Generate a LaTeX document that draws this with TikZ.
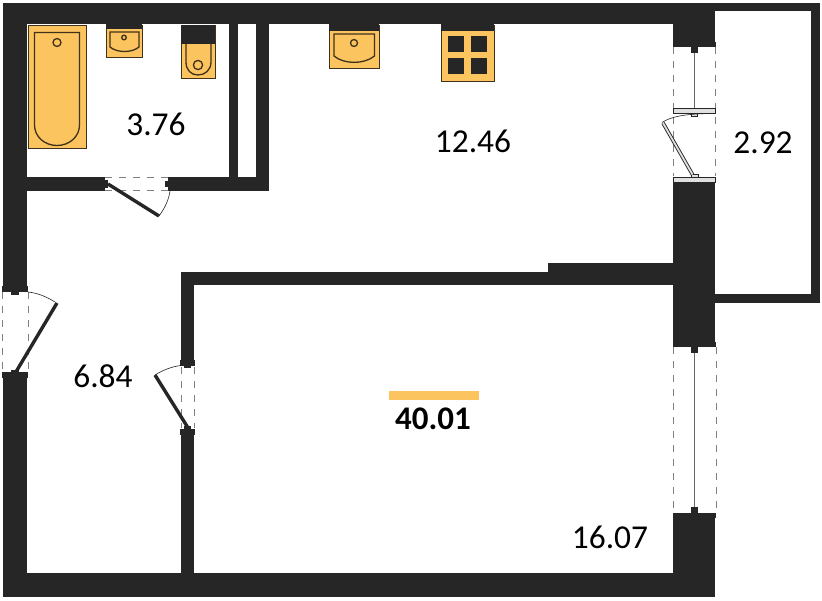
\documentclass[tikz,border=0pt]{standalone}
\usepackage{fontspec}
\setmainfont{Carlito}
\definecolor{wallc}{HTML}{262626}
\definecolor{fixc}{HTML}{FBC45F}
\definecolor{edgec}{HTML}{40321A}
\definecolor{gapc}{HTML}{808080}
\tikzset{
  wall/.style={fill=wallc,draw=none},
  fixture/.style={fill=fixc,draw=edgec,line width=0.9pt},
  fixline/.style={draw=edgec,line width=1.3pt},
  frameblk/.style={fill=wallc,draw=none},
  framelt/.style={fill=white!88!black,draw=wallc,line width=0.7pt},
  gapline/.style={draw=gapc,line width=0.9pt,dash pattern=on 7pt off 7pt},
  leaf/.style={draw=wallc,line width=3.4pt},
  swing/.style={draw=wallc,line width=0.6pt},
  glass/.style={draw=wallc!70!white,line width=1pt},
  area/.style={font=\fontsize{33.4}{35}\selectfont,text=black,inner sep=0pt}
}
\begin{document}
\begin{tikzpicture}[x=1pt,y=-1pt]
\useasboundingbox (0,0) rectangle (822,600);
\fill[white] (0,0) rectangle (822,600);
% outer and balcony walls
\fill[wall] (3,3) rectangle (820,24);
\fill[wall] (3,3) rectangle (27,288);
\fill[wall] (3,377) rectangle (27,597);
\fill[wall] (3,573) rectangle (715,597);
\fill[wall] (673,3) rectangle (715,44);
\fill[wall] (673,180) rectangle (715,345);
\fill[wall] (673,515) rectangle (715,597);
\fill[wall] (715,3) rectangle (820,11);
\fill[wall] (811,3) rectangle (820,303);
\fill[wall] (715,294) rectangle (820,303);
% balcony interior
\fill[white] (715,11) rectangle (811,294);
% inner walls
\fill[wall] (181,272) rectangle (673,285);
\fill[wall] (548,263) rectangle (673,272);
\fill[wall] (181,272) rectangle (194,362);
\fill[wall] (181,432) rectangle (194,573);
\fill[wall] (27,177) rectangle (102,190.5);
\fill[wall] (172,177) rectangle (269,190.5);
\fill[wall] (229,24) rectangle (238,177);
\fill[wall] (256,24) rectangle (269,190.5);
% bath
\fill[fixture] (28,25) rectangle (86,148);
\draw[fixline] (34.5,32.5) -- (79.5,32.5) -- (79.5,125) .. controls (79.5,137) and (69,145.5) .. (57,145.5) .. controls (45,145.5) and (34.5,137) .. (34.5,125) -- cycle;
\draw[fixline] (57,42.5) circle (4);
% bathroom sink
\fill[fixture] (106,25) rectangle (142,57);
\fill[wall] (106,24) rectangle (142,29);
\draw[fixline] (110,32) -- (139,32) -- (139,47) .. controls (132,53) and (117,53) .. (110,47) -- cycle;
\draw[fixline] (124,37.5) circle (2.3);
% toilet
\fill[fixture] (181,25) rectangle (215,78);
\fill[wall] (181,25) rectangle (215,43.5);
\draw[fixline] (186,43.5) -- (186,62) .. controls (186,70) and (191,75) .. (198,75) .. controls (205,75) and (211,70) .. (211,62) -- (211,43.5);
\draw[fixline] (198,65) circle (4.6);
% kitchen sink
\fill[fixture] (329,25) rectangle (379,68);
\fill[wall] (329,24) rectangle (379,30.5);
\draw[fixline] (334,34) -- (374.5,34) -- (374.5,56) .. controls (364,64.5) and (344,64.5) .. (334,56) -- cycle;
\draw[fixline] (354,43) circle (3.5);
% stove
\fill[fixture] (441,25) rectangle (494,81);
\fill[wall] (441,24) rectangle (494,30.5);
\fill[wall] (448,36) rectangle (464,52);
\fill[wall] (471,36) rectangle (487,52);
\fill[wall] (448,58) rectangle (464,74);
\fill[wall] (471,58) rectangle (487,74);
% bathroom door
\draw[gapline] (105,177.5) -- (168,177.5);
\draw[gapline] (105,190.5) -- (168,190.5);
\fill[frameblk] (100,177) rectangle (105,191);
\fill[frameblk] (105,180) rectangle (108,188);
\fill[frameblk] (168,177) rectangle (174,191);
\fill[frameblk] (165,181) rectangle (168,187);
\draw[leaf] (108,184) -- (159,216);
\draw[swing] (159,216) .. controls (165,208) and (169,199) .. (170,191);
% entrance door
\draw[gapline] (2.5,292) -- (2.5,372);
\draw[gapline] (28,292) -- (28,372);
\fill[frameblk] (2,286) rectangle (28,292);
\fill[frameblk] (11,292) rectangle (19,294.5);
\fill[frameblk] (2,372) rectangle (28,378);
\fill[frameblk] (11,369.5) rectangle (19,372);
\draw[leaf] (16.5,371) -- (57,303);
\draw[swing] (28,292) .. controls (38,293) and (47,297) .. (55,302);
% room door
\draw[gapline] (181,367) -- (181,428);
\draw[gapline] (194,367) -- (194,428);
\fill[frameblk] (180,360) rectangle (194.5,366);
\fill[frameblk] (184,366) rectangle (191,368);
\fill[frameblk] (180,429) rectangle (194.5,434.5);
\fill[frameblk] (184,426) rectangle (191,429);
\draw[leaf] (187.5,427) -- (155,375);
\draw[swing] (155,375) .. controls (163,370) and (172,366.5) .. (181,365.5);
% balcony window and door
\draw[gapline] (673.5,47) -- (673.5,176);
\draw[gapline] (715.5,47) -- (715.5,176);
\fill[frameblk] (673,42) rectangle (716,47);
\fill[frameblk] (690.5,47) rectangle (698,53);
\draw[glass] (694.5,53) -- (694.5,108);
\fill[framelt] (673.5,108.5) rectangle (715.5,113);
\fill[framelt] (691,113) rectangle (697,116);
\fill[framelt] (673.5,177.5) rectangle (715.5,182);
\fill[framelt] (691,174) rectangle (698,177.5);
\draw[wallc,line width=3.6pt] (692.5,174.5) -- (663,123);
\draw[white!88!black,line width=1.8pt] (692.5,174.5) -- (663,123);
\draw[swing] (662,122.5) .. controls (671,116.5) and (686,113.5) .. (715,113.5);
% living room window
\draw[gapline] (673,347) -- (673,512);
\draw[gapline] (716,347) -- (716,512);
\fill[frameblk] (673,342) rectangle (716,347);
\fill[frameblk] (690.5,347) rectangle (698,353);
\draw[glass] (694.5,353) -- (694.5,507);
\fill[frameblk] (690.5,507) rectangle (698,513);
\fill[frameblk] (672.5,513) rectangle (716,518);
% total-area bar
\fill[fixc] (389,391) rectangle (479,400);
% labels
\node[area] (bath) at (156,124) {3.76};
\node[area] (kitchen) at (473,141) {12.46};
\node[area] (balcony) at (763,143) {2.92};
\node[area] (hall) at (103,376) {6.84};
\node[area,font=\fontsize{33}{35}\selectfont\bfseries] (total) at (433,419) {40.01};
\node[area] (room) at (610,537) {16.07};
\end{tikzpicture}
\end{document}
